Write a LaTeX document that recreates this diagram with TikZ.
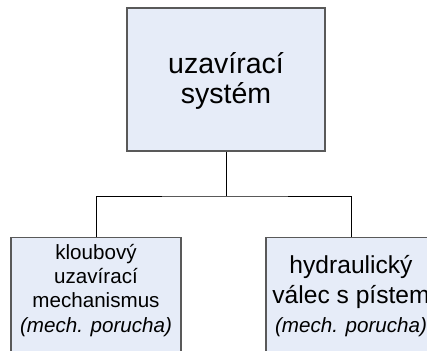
\documentclass[tikz,border=0pt]{standalone}
\usepackage{fontspec}
\setmainfont{Liberation Sans}
\begin{document}
\begin{tikzpicture}[x=1pt,y=-1pt,
  blockbox/.style={draw=black!65, line width=1.2pt, fill=boxfill, rectangle, inner sep=0pt},
  label/.style={align=center, inner sep=0pt, anchor=base},
  link/.style={draw=black, line width=0.9pt}]
  \definecolor{boxfill}{RGB}{230,236,248}
  \clip (0,0) rectangle (427,350);
  \useasboundingbox (0,0) rectangle (427,350);

  % top-level block
  \node[blockbox, minimum width=198pt, minimum height=143pt] (sys) at (226,79.5) {};
  \node[label, font=\fontsize{28.5}{30}\selectfont] (systext) at (226,103) {uzavírací\\systém};

  % second-level blocks (run off the lower edge)
  \node[blockbox, anchor=north, minimum width=170pt, minimum height=130pt] (mech) at (96,237) {};
  \node[label, font=\fontsize{20.6}{24}\selectfont] (mechtext) at (96,332)
    {kloubový\\uzavírací\\mechanismus\\[1pt]\textit{(mech. porucha)}};

  \node[blockbox, anchor=north, minimum width=170pt, minimum height=130pt] (hyd) at (351,237) {};
  \node[label, font=\fontsize{24.6}{30}\selectfont] (hydtext) at (351,332)
    {hydraulický\\válec s pístem\\[-1pt]\fontsize{20.6}{24}\selectfont\textit{(mech. porucha)}};

  % tree connectors
  \coordinate (fork) at (226,196);
  \draw[link] (sys.south) -- (fork);
  \draw[link] (mech.north) |- (fork) -| (hyd.north);
\end{tikzpicture}
\end{document}
